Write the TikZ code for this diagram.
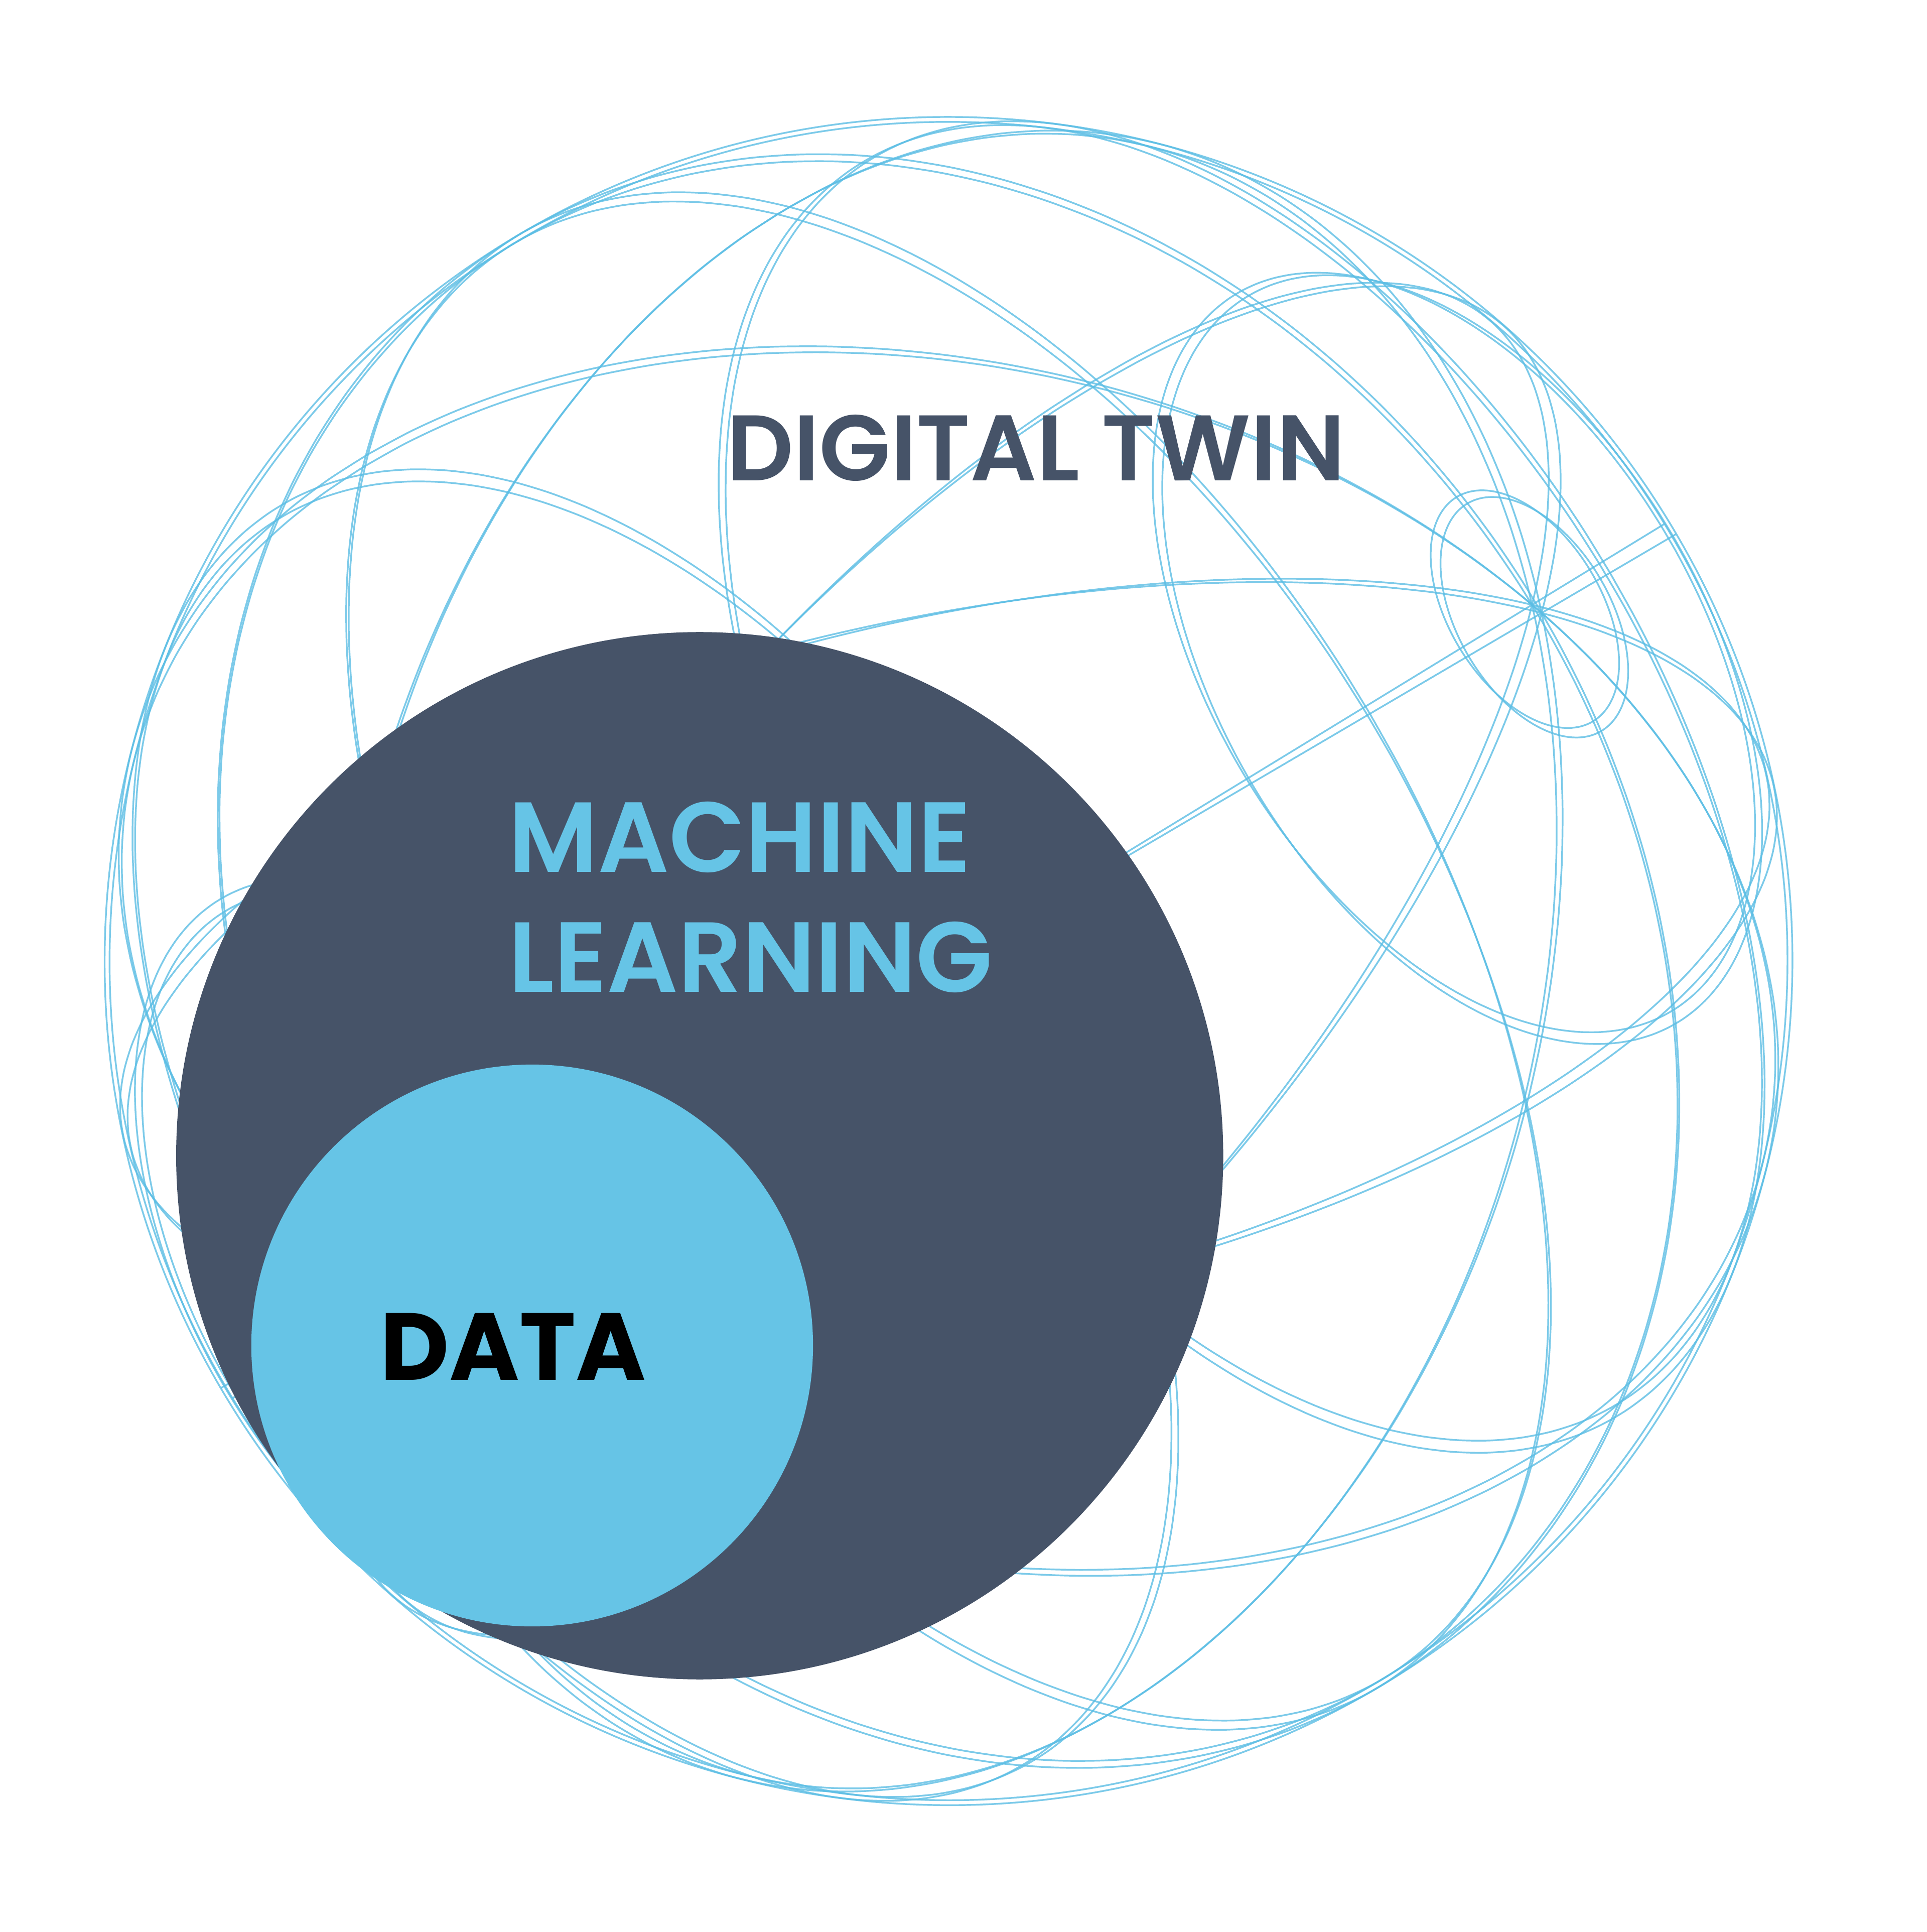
\documentclass[tikz,border=0pt]{standalone}
\usepackage{fontspec}
\setmainfont{Poppins}
\newfontfamily\labelfont{Poppins SemiBold}
\usetikzlibrary{positioning}

\definecolor{slate}{HTML}{465368}
\definecolor{sky}{HTML}{66C4E6}
\definecolor{wire}{HTML}{5BBDE4}

\tikzset{
  wireline/.style={draw=wire, line width=0.4pt, opacity=0.8},
  bubble/.style={circle, inner sep=0pt},
  caption/.style={font=\labelfont\fontsize{23}{26}\selectfont, inner sep=0pt}
}

\begin{document}
\begin{tikzpicture}
  \useasboundingbox (0,0) rectangle (15.64,15.68);
  \coordinate (globe) at (7.70,7.88);

  % wire globe: meridians and parallels, drawn twice for the sketchy look
  \foreach \tilt/\rr in {30.4/6.85, 31.4/6.81} {
    \begin{scope}[shift={(globe)}, rotate=\tilt]
      \foreach \lon in {0,30,...,150} {
        \draw[wireline] plot[domain=0:360, samples=91, smooth]
          ({\rr*(cos(\x)*cos(\lon)*0.579 + sin(\x)*0.815)}, {\rr*cos(\x)*sin(\lon)});
      }
      \foreach \lat in {-60,-30,0,30,60,81} {
        \draw[wireline] plot[domain=0:360, samples=91, smooth]
          ({\rr*(cos(\lat)*cos(\x)*0.579 + sin(\lat)*0.815)}, {\rr*cos(\lat)*sin(\x)});
      }
      \draw[wireline] (0,0) circle (\rr);
    \end{scope}
  }

  \node[bubble, fill=slate, minimum size=8.50cm] (ml) at (5.68,6.30) {};
  \node[bubble, fill=sky, minimum size=4.56cm] (data) at (4.32,4.76) {};

  \node[caption, font=\labelfont\fontsize{21.5}{24}\selectfont, text=slate, anchor=base] (twin) at (8.41,11.78) {DIGITAL TWIN};
  \node[caption, text=sky, anchor=base west] (mltop) at (4.12,8.60) {MACHINE};
  \node[caption, text=sky, anchor=base west] (mlbot) at ([yshift=-0.97cm]mltop.base west) {LEARNING};
  \node[caption, font=\bfseries\fontsize{22}{25}\selectfont, text=black, anchor=base] (datalbl) at (4.165,4.48) {DATA};
\end{tikzpicture}
\end{document}
